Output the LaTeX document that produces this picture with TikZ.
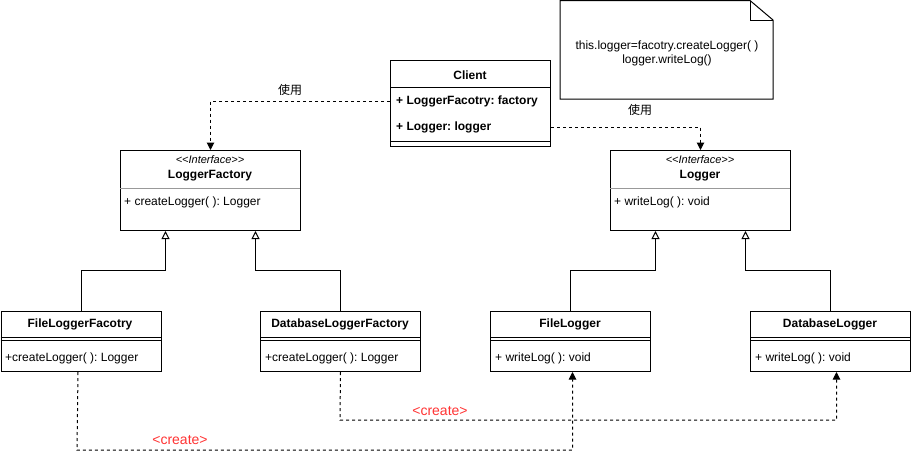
\documentclass[tikz,border=0pt]{standalone}
\usepackage{fontspec}
\setmainfont{Liberation Sans}
\newfontfamily\cjk{Noto Sans CJK SC}
\usetikzlibrary{arrows.meta}
\definecolor{createred}{HTML}{FF3333}
\definecolor{sepgray}{HTML}{999999}
\frenchspacing
\begin{document}
\begin{tikzpicture}[x=1pt,y=-1pt,
  box/.style={draw, line width=1pt, rectangle, anchor=north west, inner sep=0pt, fill=white},
  txt/.style={inner sep=0pt, yshift=-1pt, font=\fontsize{12}{14}\selectfont},
  btxt/.style={inner sep=0pt, yshift=-1pt, font=\fontsize{12}{14}\selectfont\bfseries},
  stxt/.style={inner sep=0pt, font=\fontsize{11}{13}\selectfont\itshape},
  ctxt/.style={inner sep=0pt, font=\fontsize{12}{14}\selectfont\cjk},
  rtxt/.style={inner sep=0pt, text=createred, font=\fontsize{14}{16}\selectfont},
  dep/.style={draw, line width=1pt, dash pattern=on 3pt off 3pt, -{Triangle[length=7.5pt,width=7.5pt]}},
  inh/.style={draw, line width=1pt, -{Triangle[open, length=8pt, width=8pt, fill=white]}},
  sep/.style={draw, line width=1pt},
]
\useasboundingbox (0,0) rectangle (911,459);

% Note
\draw[line width=1pt, fill=white] (560,0.5) -- (750,0.5) -- (773,20) -- (773,99) -- (560,99) -- cycle;
\draw[line width=1pt] (750,0.5) -- (750,20) -- (773,20);
\node[txt, align=center] (note) at (667,52) {this.logger=facotry.createLogger( )\\logger.writeLog()};

% Client
\node[box, minimum width=160pt, minimum height=86pt] (client) at (390,60) {};
\node[btxt] (cname) at (470,74) {Client};
\draw[sep] (390,87) -- (550,87);
\node[btxt, anchor=west] (cattr1) at (396,100) {+ LoggerFacotry: factory};
\node[btxt, anchor=west] (cattr2) at (396,126) {+ Logger: logger};
\draw[sep] (390,141) -- (550,141);

% LoggerFactory interface
\node[box, minimum width=180pt, minimum height=80pt] (lf) at (120,150) {};
\node[stxt] (lfst) at (210,160) {{<}{<}Interface{>}{>}};
\node[btxt] (lfname) at (210,175) {LoggerFactory};
\draw[draw=sepgray, line width=1pt] (120,188) -- (300,188);
\node[txt, anchor=west] (lfm) at (124,201) {+ createLogger( ): Logger};

% Logger interface
\node[box, minimum width=180pt, minimum height=80pt] (lg) at (610,150) {};
\node[stxt] (lgst) at (700,160) {{<}{<}Interface{>}{>}};
\node[btxt] (lgname) at (700,175) {Logger};
\draw[draw=sepgray, line width=1pt] (610,188) -- (790,188);
\node[txt, anchor=west] (lgm) at (614,201) {+ writeLog( ): void};

% FileLoggerFacotry
\node[box, minimum width=160pt, minimum height=60pt] (flf) at (0.5,311) {};
\node[btxt] (flfname) at (80,323) {FileLoggerFacotry};
\draw[sep] (0.5,337) -- (160.5,337);
\draw[sep] (0.5,340.5) -- (160.5,340.5);
\node[txt, anchor=west] (flfm) at (5,357) {+createLogger( ): Logger};

% DatabaseLoggerFactory
\node[box, minimum width=160pt, minimum height=60pt] (dbf) at (260,311) {};
\node[btxt] (dbfname) at (340,323) {DatabaseLoggerFactory};
\draw[sep] (260,337) -- (420,337);
\draw[sep] (260,340.5) -- (420,340.5);
\node[txt, anchor=west] (dbfm) at (265,357) {+createLogger( ): Logger};

% FileLogger
\node[box, minimum width=160pt, minimum height=60pt] (fl) at (490,311) {};
\node[btxt] (flname) at (570,323) {FileLogger};
\draw[sep] (490,337) -- (650,337);
\draw[sep] (490,340.5) -- (650,340.5);
\node[txt, anchor=west] (flm) at (495,357) {+ writeLog( ): void};

% DatabaseLogger
\node[box, minimum width=160pt, minimum height=60pt] (dbl) at (750,311) {};
\node[btxt] (dblname) at (830,323) {DatabaseLogger};
\draw[sep] (750,337) -- (910,337);
\draw[sep] (750,340.5) -- (910,340.5);
\node[txt, anchor=west] (dblm) at (755,357) {+ writeLog( ): void};

% Uses
\draw[dep] (client.west |- cattr1) -| (lf.north);
\node[ctxt] (use1) at (290,90) {使用};
\draw[dep] (client.east |- cattr2) -| (lg.north);
\node[ctxt] (use2) at (640,110) {使用};

% Inheritance
\draw[inh] (flf.north) -- ++(0,-41) -| ([xshift=-45pt]lf.south);
\draw[inh] (dbf.north) -- ++(0,-41) -| ([xshift=45pt]lf.south);
\draw[inh] (fl.north) -- ++(0,-41) -| ([xshift=-45pt]lg.south);
\draw[inh] (dbl.north) -- ++(0,-41) -| ([xshift=45pt]lg.south);

% Create
\coordinate (c1) at (77,450);
\draw[dep] ([xshift=-3pt]flf.south) -- (c1) -| ([xshift=2pt]fl.south);
\node[rtxt] (cr1) at (180,440) {<create>};
\coordinate (c2) at (340,420);
\draw[dep] (dbf.south) -- (c2) -| ([xshift=6pt]dbl.south);
\node[rtxt] (cr2) at (440,411) {<create>};
\end{tikzpicture}
\end{document}
